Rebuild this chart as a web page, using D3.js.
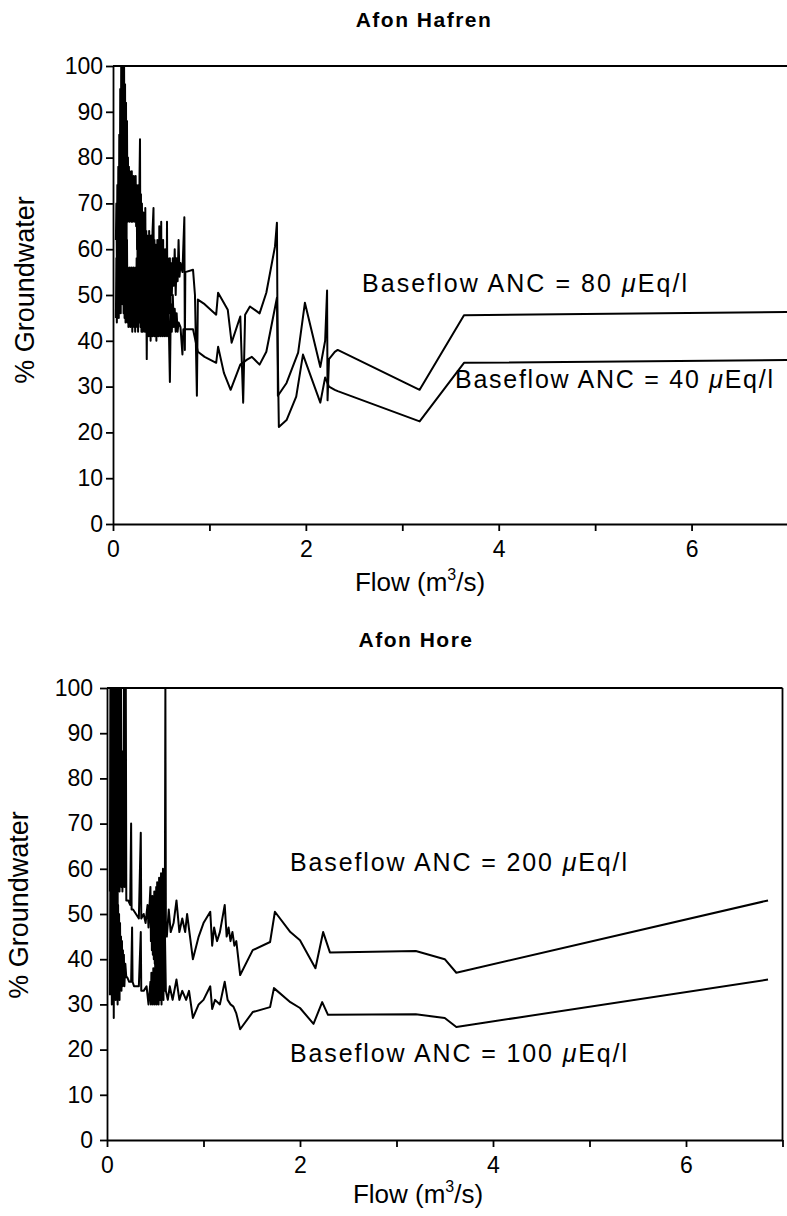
<!DOCTYPE html>
<html>
<head>
<meta charset="utf-8">
<script src="https://cdn.jsdelivr.net/npm/d3@7"></script>
<style>
  body { margin: 0; background: #fff; }
  svg { display: block; font-family: "Liberation Sans", Arial, sans-serif; }
  .axis path, .axis line { stroke: #000; stroke-width: 1.8; }
  .axis text { fill: #000; font-size: 23px; font-family: "Liberation Sans", Arial, sans-serif; }
  .series { fill: none; stroke: #000; stroke-width: 2; stroke-linejoin: round; }
</style>
</head>
<body>
<svg id="chart" width="787" height="1216"></svg>
<script>
// tick values / labels
var xTickValues = [0, 1, 2, 3, 4, 5, 6, 7];
var xTickLabels = [0, 2, 4, 6];
var yTickValues = [0, 10, 20, 30, 40, 50, 60, 70, 80, 90, 100];

// Afon Hafren, [flow m3/s, % groundwater], baseflow ANC = 80 uEq/l
var hafren80 = [
  [0.030,62],[0.035,70],[0.040,58],[0.045,74],[0.050,60],[0.055,78],[0.060,56],[0.065,85],[0.070,62],[0.075,95],
  [0.080,66],[0.085,100],[0.090,64],[0.095,100],[0.100,70],[0.105,100],[0.110,62],[0.115,100],[0.120,66],[0.125,96],
  [0.130,60],[0.135,92],[0.140,58],[0.145,88],[0.150,66],[0.155,80],[0.160,67],[0.165,78],[0.170,66],[0.175,77],
  [0.180,67],[0.185,76],[0.190,66],[0.195,77],[0.200,66],[0.205,75],[0.210,67],[0.215,76],[0.220,66],[0.225,75],
  [0.230,67],[0.235,76],[0.240,65],[0.245,74],[0.250,60],[0.255,72],[0.260,55],[0.265,74],[0.270,52],[0.275,76],
  [0.280,84],[0.285,50],[0.290,72],[0.295,48],[0.300,70],[0.310,50],[0.315,68],[0.320,48],[0.325,66],[0.330,46],
  [0.335,69],[0.340,48],[0.345,64],[0.350,46],[0.355,63],[0.360,45],[0.365,62],[0.370,47],[0.375,64],[0.380,46],
  [0.385,60],[0.390,45],[0.395,63],[0.400,46],[0.410,64],[0.420,69],[0.425,46],[0.430,62],[0.435,45],[0.440,61],
  [0.445,44],[0.450,60],[0.455,46],[0.460,62],[0.465,45],[0.470,60],[0.475,44],[0.480,65],[0.485,46],[0.490,62],
  [0.495,45],[0.500,66],[0.505,44],[0.510,60],[0.515,46],[0.520,62],[0.525,44],[0.530,58],[0.535,45],[0.540,60],
  [0.545,44],[0.550,58],[0.555,46],[0.560,66],[0.565,45],[0.570,58],[0.575,47],[0.580,57],[0.585,46],[0.590,58],
  [0.595,47],[0.600,57],[0.610,50],[0.620,58],[0.630,52],[0.640,60],[0.650,50],[0.660,58],[0.670,53],[0.680,62],
  [0.690,54],[0.700,57],[0.720,55],[0.740,67],[0.745,38],[0.750,55],[0.830,55.5],[0.850,50],[0.870,28],[0.880,49],
  [0.950,48],[1.070,45.7],[1.090,50.5],[1.190,46.8],[1.230,39.6],[1.320,45.3],[1.350,26.5],[1.370,45.7],[1.420,47.5],[1.520,46],
  [1.590,50.5],[1.680,60.6],[1.700,65.8],[1.710,28],[1.800,30.8],[1.920,37.4],[1.990,48.3],[2.150,34.3],[2.200,40],[2.220,51],
  [2.225,27],[2.240,36],[2.300,37.6],[2.330,38],[3.180,29.3],[3.640,45.6],[7.000,46.3]
];

// Afon Hafren, baseflow ANC = 40 uEq/l
var hafren40 = [
  [0.030,45],[0.035,58],[0.040,44],[0.045,62],[0.050,46],[0.055,66],[0.060,45],[0.065,68],[0.070,48],[0.075,72],
  [0.080,46],[0.085,75],[0.090,50],[0.095,76],[0.100,48],[0.105,73],[0.110,46],[0.115,70],[0.120,45],[0.125,68],
  [0.130,44],[0.135,66],[0.140,45],[0.145,62],[0.150,44],[0.155,56],[0.160,43],[0.165,55],[0.170,44],[0.175,56],
  [0.180,43],[0.185,55],[0.190,44],[0.195,56],[0.200,42],[0.205,55],[0.210,44],[0.215,56],[0.220,43],[0.225,55],
  [0.230,42],[0.235,56],[0.240,44],[0.245,58],[0.250,43],[0.255,62],[0.260,42],[0.265,64],[0.270,44],[0.275,62],
  [0.280,60],[0.285,43],[0.290,58],[0.295,42],[0.300,56],[0.310,42],[0.315,55],[0.320,43],[0.325,54],[0.330,42],
  [0.335,52],[0.340,43],[0.345,50],[0.350,36],[0.355,52],[0.360,42],[0.365,55],[0.370,41],[0.375,52],[0.380,42],
  [0.385,50],[0.390,40],[0.395,54],[0.400,42],[0.405,52],[0.410,41],[0.415,55],[0.420,42],[0.425,52],[0.430,41],
  [0.435,50],[0.440,42],[0.445,53],[0.450,40],[0.455,52],[0.460,42],[0.465,55],[0.470,41],[0.475,56],[0.480,42],
  [0.485,52],[0.490,41],[0.495,50],[0.500,42],[0.505,53],[0.510,41],[0.515,52],[0.520,42],[0.525,50],[0.530,41],
  [0.535,52],[0.540,42],[0.545,48],[0.550,41],[0.555,50],[0.560,42],[0.565,48],[0.570,41],[0.575,46],[0.580,42],
  [0.590,31],[0.600,48],[0.610,42],[0.620,50],[0.630,43],[0.640,47],[0.650,42],[0.660,46],[0.670,42],[0.680,44],
  [0.700,43],[0.720,37],[0.730,42.5],[0.830,42.5],[0.880,37.6],[0.950,36.5],[1.070,35.2],[1.090,38.7],[1.150,33],[1.220,29.3],
  [1.320,34.8],[1.390,35.9],[1.440,36.5],[1.520,34.8],[1.590,37.6],[1.700,49.4],[1.720,21.2],[1.800,22.7],[1.900,27.8],[1.970,37],
  [2.150,26.5],[2.200,32],[2.240,30],[2.300,29.3],[2.330,29],[3.180,22.4],[3.640,35.2],[7.000,35.8]
];

// Afon Hore, baseflow ANC = 200 uEq/l
var hore200 = [
  [0.030,55],[0.035,100],[0.040,60],[0.045,100],[0.050,52],[0.055,100],[0.060,58],[0.065,100],[0.070,50],[0.075,100],
  [0.080,62],[0.085,100],[0.090,54],[0.095,100],[0.100,60],[0.105,100],[0.110,52],[0.115,100],[0.120,58],[0.125,100],
  [0.130,55],[0.135,100],[0.140,60],[0.145,100],[0.150,56],[0.155,86],[0.160,55],[0.165,84],[0.170,57],[0.175,100],
  [0.180,56],[0.185,100],[0.190,57],[0.195,100],[0.200,53],[0.220,53],[0.240,52],[0.250,70],[0.255,51],[0.270,51],
  [0.300,50],[0.330,49],[0.350,68],[0.355,49],[0.380,50],[0.400,48],[0.420,52],[0.430,47],[0.450,56],[0.455,44],
  [0.460,53],[0.465,42],[0.470,54],[0.475,41],[0.480,53],[0.485,40],[0.490,55],[0.495,39],[0.500,55],[0.505,40],
  [0.510,56],[0.515,38],[0.520,57],[0.525,39],[0.530,56],[0.535,38],[0.540,58],[0.545,40],[0.550,57],[0.555,38],
  [0.560,59],[0.565,39],[0.570,58],[0.575,40],[0.580,60],[0.585,41],[0.590,58],[0.595,44],[0.600,57],[0.605,100],
  [0.610,48],[0.620,45],[0.640,51],[0.660,46],[0.690,48],[0.720,53],[0.750,46],[0.780,49],[0.810,46],[0.830,50],
  [0.890,40],[0.950,45],[1.000,48],[1.070,50.5],[1.090,43],[1.110,47],[1.140,44],[1.170,46],[1.220,52],[1.240,45],
  [1.260,47],[1.280,44],[1.300,46],[1.320,43],[1.340,44],[1.380,36.5],[1.510,42],[1.690,43.8],[1.740,50.5],[1.900,46],
  [2.000,44.2],[2.160,38],[2.240,46],[2.310,41.5],[3.200,41.8],[3.500,40],[3.620,37],[6.850,53]
];

// Afon Hore, baseflow ANC = 100 uEq/l
var hore100 = [
  [0.030,32],[0.035,60],[0.040,35],[0.045,90],[0.050,30],[0.055,80],[0.060,33],[0.065,70],[0.070,27],[0.075,65],
  [0.080,34],[0.085,62],[0.090,31],[0.095,58],[0.100,35],[0.105,55],[0.110,30],[0.115,52],[0.120,34],[0.125,50],
  [0.130,31],[0.135,48],[0.140,36],[0.145,45],[0.150,33],[0.155,44],[0.160,34],[0.165,42],[0.170,35],[0.175,41],
  [0.180,34],[0.190,39],[0.200,36],[0.210,36],[0.230,35],[0.250,35],[0.260,47],[0.265,35],[0.280,34],[0.310,34],
  [0.330,34],[0.350,46],[0.355,33],[0.380,33],[0.410,34],[0.430,30],[0.450,35],[0.455,30],[0.460,37],[0.465,31],
  [0.470,36],[0.475,30],[0.480,38],[0.485,31],[0.490,37],[0.495,30],[0.500,40],[0.505,31],[0.510,38],[0.515,30],
  [0.520,41],[0.525,31],[0.530,40],[0.535,30],[0.540,42],[0.545,31],[0.550,43],[0.555,31],[0.560,44],[0.565,30],
  [0.570,45],[0.575,32],[0.580,46],[0.585,31],[0.590,45],[0.595,33],[0.600,46],[0.610,33],[0.630,31],[0.650,34],
  [0.680,31],[0.720,35.5],[0.750,31],[0.780,33],[0.820,31],[0.850,33],[0.890,27],[0.950,30],[1.000,31],[1.070,34],
  [1.090,29],[1.120,31],[1.170,30],[1.220,35],[1.250,31],[1.280,30],[1.310,29.5],[1.340,28],[1.380,24.5],[1.510,28.3],
  [1.690,29.4],[1.730,33.6],[1.900,30.5],[2.000,29.2],[2.140,25.7],[2.230,30.5],[2.290,27.7],[3.200,27.8],[3.500,27],[3.620,25],
  [6.850,35.5]
];

var svg = d3.select("#chart");
svg.append("rect").attr("width", 787).attr("height", 1216).attr("fill", "#fff");

function drawPanel(p) {
  var x = d3.scaleLinear().domain([0, 7]).range([p.left, p.right]);
  var y = d3.scaleLinear().domain([0, 100]).range([p.bottom, p.top]);
  var g = svg.append("g");

  // top frame line, right border on the lower panel only
  g.append("line")
      .attr("x1", x(0)).attr("x2", x(7))
      .attr("y1", y(100)).attr("y2", y(100))
      .attr("stroke", "#000").attr("stroke-width", 1.8);
  if (p.rightBorder) {
    g.append("line")
        .attr("x1", x(7)).attr("x2", x(7))
        .attr("y1", y(0)).attr("y2", y(100))
        .attr("stroke", "#000").attr("stroke-width", 1.8);
  }

  var line = d3.line()
      .x(function(d) { return x(d[0]); })
      .y(function(d) { return y(d[1]); });

  p.series.forEach(function(s) {
    g.append("path").datum(s).attr("class", "series").attr("d", line);
  });

  g.append("g")
      .attr("class", "axis")
      .attr("transform", "translate(0," + p.bottom + ")")
      .call(d3.axisBottom(x).tickValues(xTickValues).tickSize(7).tickSizeOuter(0).tickPadding(p.xPad)
        .tickFormat(function(d) { return xTickLabels.indexOf(d) >= 0 ? d : ""; }));

  g.append("g")
      .attr("class", "axis")
      .attr("transform", "translate(" + p.left + ",0)")
      .call(d3.axisLeft(y).tickValues(yTickValues).tickSize(7).tickSizeOuter(0).tickPadding(p.yPad));

  g.append("text")
      .attr("x", p.titleX).attr("y", p.titleY)
      .attr("text-anchor", "middle")
      .style("font-size", "21px").style("font-weight", "bold")
      .style("letter-spacing", "1.5px")
      .text(p.title);

  g.append("text")
      .attr("transform", "translate(" + p.yLabX + "," + p.yLabY + ") rotate(-90)")
      .attr("text-anchor", "middle")
      .style("font-size", "27px")
      .text("% Groundwater");

  var xl = g.append("text")
      .attr("x", p.xLabX).attr("y", p.xLabY)
      .attr("text-anchor", "middle")
      .style("font-size", "26px");
  xl.append("tspan").text("Flow (m");
  xl.append("tspan").attr("dy", -11).style("font-size", "16px").text("3");
  xl.append("tspan").attr("dy", 11).text("/s)");

  p.notes.forEach(function(n) {
    var t = g.append("text")
        .attr("x", n.x).attr("y", n.y)
        .style("font-size", "25px")
        .attr("textLength", n.w).attr("lengthAdjust", "spacing");
    t.append("tspan").text(n.text + " ");
    t.append("tspan").style("font-style", "italic").text("\u03bc");
    t.append("tspan").text("Eq/l");
  });
}

drawPanel({
  left: 113, right: 788, top: 66, bottom: 524,
  series: [hafren80, hafren40], rightBorder: false,
  xPad: 10, yPad: 3,
  title: "Afon Hafren", titleX: 424, titleY: 27,
  yLabX: 34, yLabY: 290,
  xLabX: 420, xLabY: 591,
  notes: [
    {text: "Baseflow ANC = 80", x: 362, y: 292, w: 325},
    {text: "Baseflow ANC = 40", x: 455, y: 388, w: 318}
  ]
});

drawPanel({
  left: 107, right: 782.5, top: 688, bottom: 1140,
  series: [hore200, hore100], rightBorder: true,
  xPad: 10, yPad: 7,
  title: "Afon Hore", titleX: 416, titleY: 647,
  yLabX: 28, yLabY: 905,
  xLabX: 418, xLabY: 1203,
  notes: [
    {text: "Baseflow ANC = 200", x: 290, y: 871, w: 337},
    {text: "Baseflow ANC = 100", x: 290, y: 1062, w: 337}
  ]
});
</script>
</body>
</html>
